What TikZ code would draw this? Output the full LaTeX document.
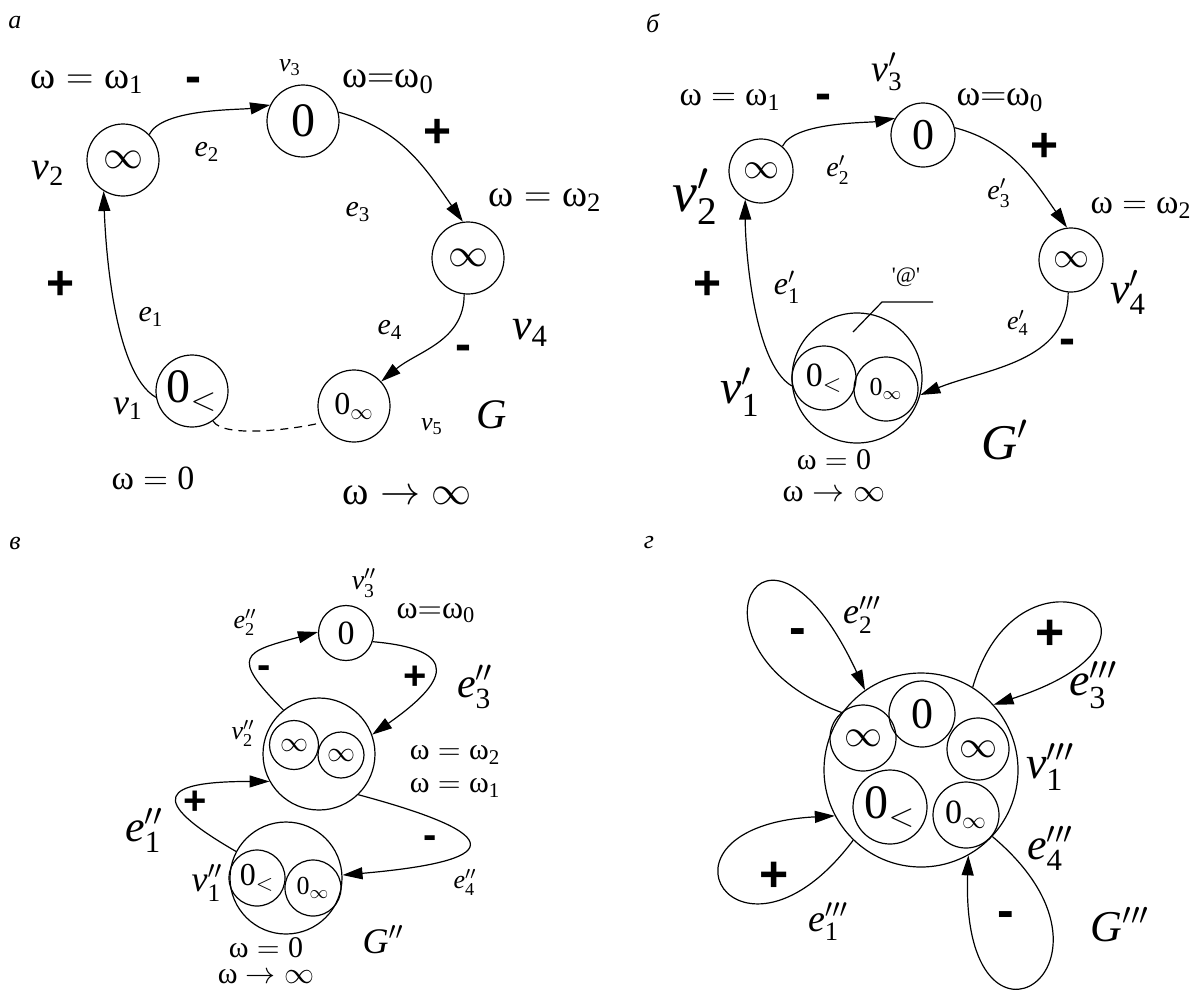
\documentclass[tikz,border=0pt]{standalone}
\usepackage{fix-cm}
\usepackage{amsmath}
\usepackage{fontspec}
\setmainfont{Liberation Serif}
\newfontfamily\signfont{Liberation Sans}
\usepackage{tikz}
\usetikzlibrary{arrows.meta}
\newcommand{\fsz}[1]{\fontsize{#1}{#1}\selectfont}
\newcommand{\om}{\text{ω}}
\newcommand{\dg}[1]{\text{#1}}
\tikzset{
  vnode/.style={circle, draw, line width=0.6pt, inner sep=0pt, minimum size=#1},
  lbl/.style={inner sep=0pt, font=\fsz{#1}},
  signlbl/.style={inner sep=0pt, font=\signfont\bfseries\fsz{#1}},
  edgearrow/.style={-{Triangle[length=10pt,width=6pt]}, line width=0.6pt},
  edgeline/.style={line width=0.6pt},
}

\begin{document}
\begin{tikzpicture}[x=0.5pt, y=-0.5pt]
  \useasboundingbox (0,0) rectangle (1193,991);

  % a: graph G
  \node[lbl=13pt] (a_tag) at (15,23) {\textit{а}};
  \node[vnode=36pt, lbl=20pt] (a_v2) at (123,160) {$\infty$};
  \node[vnode=36pt, lbl=24pt] (a_v3) at (303,121) {0};
  \node[vnode=36pt, lbl=20pt] (a_v4) at (468,258) {$\infty$};
  \node[vnode=36pt, lbl=24pt] (a_v1) at (192,391) {$\dg{0}_<$};
  \node[vnode=36pt, lbl=16pt] (a_v5) at (354,406) {$\dg{0}_\infty$};

  \node[lbl=19pt] (a_w1) at (87,82) {$\om = \om_{\dg{1}}$};
  \node[signlbl=24pt] (a_s2) at (193,85) {-};
  \node[lbl=13pt] (a_l3) at (290,68) {$\textit{v}_{\dg{3}}$};
  \node[lbl=19pt] (a_w0) at (388,82) {$\om{=}\om_{\dg{0}}$};
  \node[signlbl=24pt] (a_s3) at (438,133) {+};
  \node[lbl=20pt] (a_l2) at (48,173) {$\textit{v}_{\dg{2}}$};
  \node[lbl=15pt] (a_e2) at (207,152) {$\textit{e}_{\dg{2}}$};
  \node[lbl=15pt] (a_e3) at (358,212) {$\textit{e}_{\dg{3}}$};
  \node[lbl=19pt] (a_w2) at (545,200) {$\om = \om_{\dg{2}}$};
  \node[signlbl=24pt] (a_s1) at (61,285) {+};
  \node[lbl=15pt] (a_e1) at (151,317) {$\textit{e}_{\dg{1}}$};
  \node[lbl=15pt] (a_e4) at (390,330) {$\textit{e}_{\dg{4}}$};
  \node[lbl=22pt] (a_l4) at (530,333) {$\textit{v}_{\dg{4}}$};
  \node[signlbl=24pt] (a_s4) at (463,353) {-};
  \node[lbl=18pt] (a_l1) at (128,409) {$\textit{v}_{\dg{1}}$};
  \node[lbl=13pt] (a_l5) at (432,427) {$\textit{v}_{\dg{5}}$};
  \node[lbl=21pt] (a_g) at (492,415) {$\textit{G}$};
  \node[lbl=17pt] (a_wz) at (153,478) {$\om = \dg{0}$};
  \node[lbl=20pt] (a_wi) at (407,495) {$\om \rightarrow \infty$};

  \draw[edgearrow] (a_v1.190) to[out=150, in=-88, looseness=0.6] (a_v2.-122);
  \draw[edgearrow] (a_v2.44) to[out=65, in=190, looseness=0.6] (a_v3.154);
  \draw[edgearrow] (a_v3.14) to[out=-15, in=125] (a_v4.98);
  \draw[edgearrow] (a_v4.-96) to[out=-90, in=40] (a_v5.42);
  \draw[edgeline, dash pattern=on 4pt off 3pt] (a_v1.-55) to[out=-60, in=195, looseness=0.5] (a_v5.207);

  % b: graph G'
  \node[lbl=13pt] (b_tag) at (653,23) {\textit{б}};
  \node[vnode=32pt, lbl=18pt] (b_v2) at (761,171) {$\infty$};
  \node[vnode=32pt, lbl=22pt] (b_v3) at (923,135) {0};
  \node[vnode=32pt, lbl=18pt] (b_v4) at (1071,260) {$\infty$};
  \node[vnode=65pt] (b_v1) at (857,378) {};
  \node[vnode=32pt, lbl=17pt] (b_v1a) at (824,378) {$\dg{0}_<$};
  \node[vnode=32pt, lbl=13pt] (b_v1b) at (886,389) {$\dg{0}_\infty$};

  \node[lbl=17pt] (b_w1) at (730,100) {$\om = \om_{\dg{1}}$};
  \node[signlbl=24pt] (b_s2) at (823,102) {-};
  \node[lbl=19pt] (b_l3) at (887,72) {$\textit{v}'_{\dg{3}}$};
  \node[lbl=18pt] (b_w0) at (1000,100) {$\om{=}\om_{\dg{0}}$};
  \node[signlbl=24pt] (b_s3) at (1044,147) {+};
  \node[lbl=28pt] (b_l2) at (695,197) {$\textit{v}'_{\dg{2}}$};
  \node[lbl=14pt] (b_e2) at (838,170) {$\textit{e}'_{\dg{2}}$};
  \node[lbl=14pt] (b_e3) at (999,193) {$\textit{e}'_{\dg{3}}$};
  \node[lbl=17pt] (b_w2) at (1141,208) {$\om = \om_{\dg{2}}$};
  \node[signlbl=24pt] (b_s1) at (708,285) {+};
  \node[lbl=16pt] (b_e1) at (787,287) {$\textit{e}'_{\dg{1}}$};
  \node[lbl=11pt] (b_at) at (906,277) {\textquotesingle @\textquotesingle};
  \node[lbl=22pt] (b_l4) at (1128,292) {$\textit{v}'_{\dg{4}}$};
  \node[lbl=13pt] (b_e4) at (1018,323) {$\textit{e}'_{\dg{4}}$};
  \node[signlbl=24pt] (b_s4) at (1067,347) {-};
  \node[lbl=24pt] (b_l1) at (740,392) {$\textit{v}'_{\dg{1}}$};
  \node[lbl=25pt] (b_g) at (1005,440) {$\textit{G}'$};
  \node[lbl=15pt] (b_wz) at (834,460) {$\om = \dg{0}$};
  \node[lbl=16pt] (b_wi) at (834,494) {$\om \rightarrow \infty$};

  \coordinate (b_ldA) at (933,302);
  \coordinate (b_ldB) at (882,302);
  \coordinate (b_ldC) at (853,332);
  \draw[edgeline] (b_ldA) -- (b_ldB) -- (b_ldC);

  \draw[edgearrow] (b_v1.187) to[out=150, in=-90, looseness=0.6] (b_v2.-119);
  \draw[edgearrow] (b_v2.49) to[out=65, in=190, looseness=0.6] (b_v3.149);
  \draw[edgearrow] (b_v3.13) to[out=-15, in=125] (b_v4.97);
  \draw[edgearrow] (b_v4.-95) to[out=-90, in=22] (b_v1.-15);

  % c: graph G''
  \node[lbl=13pt] (c_tag) at (15,543) {\textit{в}};
  \node[vnode=27.5pt, lbl=17pt] (c_v3) at (346,633) {0};
  \node[vnode=56pt] (c_v2) at (319,754) {};
  \node[vnode=24.5pt, lbl=14pt] (c_v2a) at (294,745) {$\infty$};
  \node[vnode=23pt, lbl=14pt] (c_v2b) at (341,755) {$\infty$};
  \node[vnode=56pt] (c_v1) at (286,878) {};
  \node[vnode=28pt, lbl=16pt] (c_v1a) at (257,878) {$\dg{0}_<$};
  \node[vnode=28pt, lbl=13pt] (c_v1b) at (313,888) {$\dg{0}_\infty$};

  \node[lbl=14pt] (c_l3) at (364,583) {$\textit{v}''_{\dg{3}}$};
  \node[lbl=16pt] (c_w0) at (436,613) {$\om{=}\om_{\dg{0}}$};
  \node[lbl=13pt] (c_e2) at (245,622) {$\textit{e}''_{\dg{2}}$};
  \node[signlbl=20pt] (c_s2) at (264,672) {-};
  \node[signlbl=20pt] (c_s3) at (415,678) {+};
  \node[lbl=21pt] (c_e3) at (475,687) {$\textit{e}''_{\dg{3}}$};
  \node[lbl=13pt] (c_l2) at (243,733) {$\textit{v}''_{\dg{2}}$};
  \node[lbl=15pt] (c_w2) at (455,755) {$\om = \om_{\dg{2}}$};
  \node[lbl=15pt] (c_w1) at (455,788) {$\om = \om_{\dg{1}}$};
  \node[signlbl=20pt] (c_s1) at (195,803) {+};
  \node[lbl=22pt] (c_e1) at (144,830) {$\textit{e}''_{\dg{1}}$};
  \node[lbl=18pt] (c_l1) at (207,883) {$\textit{v}''_{\dg{1}}$};
  \node[signlbl=20pt] (c_s4) at (430,842) {-};
  \node[lbl=13pt] (c_e4) at (465,882) {$\textit{e}''_{\dg{4}}$};
  \node[lbl=18pt] (c_g) at (383,940) {$\textit{G}''$};
  \node[lbl=15pt] (c_wz) at (266,948) {$\om = \dg{0}$};
  \node[lbl=15pt] (c_wi) at (266,977) {$\om \rightarrow \infty$};

  \draw[edgearrow] (c_v2.129) to[out=135, in=195, looseness=2.3] (c_v3.178);
  \draw[edgearrow] (c_v3.-18) to[out=-5, in=35, looseness=2.5] (c_v2.20);
  \draw[edgearrow] (c_v1.152) to[out=150, in=180, looseness=3.5] (c_v2.209);
  \draw[edgearrow] (c_v2.-46) to[out=-15, in=5, looseness=5] (c_v1.3);

  % d: graph G'''
  \node[lbl=13pt] (d_tag) at (649,543) {\textit{г}};
  \node[vnode=97pt] (d_v1) at (921,770) {};
  \node[vnode=33pt, lbl=22pt] (d_in0) at (922,714) {0};
  \node[vnode=33pt, lbl=19pt] (d_inL) at (863,738) {$\infty$};
  \node[vnode=31pt, lbl=19pt] (d_inR) at (978,749) {$\infty$};
  \node[vnode=37pt, lbl=24pt] (d_in1) at (890,807) {$\dg{0}_<$};
  \node[vnode=33pt, lbl=17pt] (d_in2) at (966,815) {$\dg{0}_\infty$};

  \node[lbl=18pt] (d_e2) at (862,615) {$\textit{e}'''_{\dg{2}}$};
  \node[signlbl=25pt] (d_s2) at (798,637) {-};
  \node[signlbl=25pt] (d_s3) at (1050,635) {+};
  \node[lbl=23pt] (d_e3) at (1093,685) {$\textit{e}'''_{\dg{3}}$};
  \node[lbl=23pt] (d_l1) at (1050,767) {$\textit{v}'''_{\dg{1}}$};
  \node[lbl=22pt] (d_e4) at (1050,848) {$\textit{e}'''_{\dg{4}}$};
  \node[lbl=19pt] (d_e1) at (828,922) {$\textit{e}'''_{\dg{1}}$};
  \node[signlbl=25pt] (d_s1) at (774,877) {+};
  \node[signlbl=25pt] (d_s4) at (1006,920) {-};
  \node[lbl=22pt] (d_g) at (1120,925) {$\textit{G}'''$};

  \draw[edgearrow] (d_v1.144) to[out=160, in=115, out distance=90pt, in distance=120pt] (d_v1.125);
  \draw[edgearrow] (d_v1.58) to[out=74, in=18, out distance=85pt, in distance=115pt] (d_v1.42);
  \draw[edgearrow] (d_v1.-43) to[out=-40, in=-92, out distance=100pt, in distance=115pt] (d_v1.-61);
  \draw[edgearrow] (d_v1.226) to[out=233, in=183, out distance=95pt, in distance=100pt] (d_v1.208);
\end{tikzpicture}
\end{document}
